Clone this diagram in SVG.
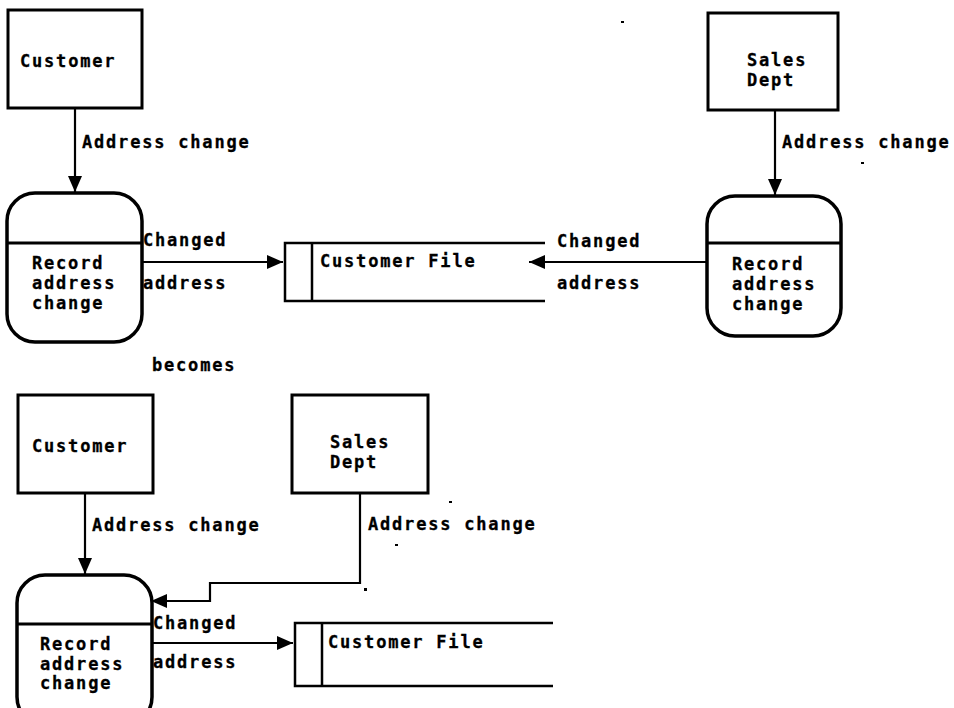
<svg xmlns="http://www.w3.org/2000/svg" width="954" height="708" viewBox="0 0 954 708">
  <style>
    text { font-family: "DejaVu Sans Mono", "Liberation Mono", monospace; font-weight: bold; font-size: 17px; letter-spacing: 1.8px; fill: #000; stroke: #000; stroke-width: 0.3; }
    .box { fill: #fff; stroke: #000; stroke-width: 3; }
    .proc { fill: #fff; stroke: #000; stroke-width: 3.5; }
    .div { stroke: #000; stroke-width: 3; }
    .store { fill: none; stroke: #000; stroke-width: 2.5; }
    .flow { fill: none; stroke: #000; stroke-width: 2.2; }
    .speck { fill: #000; }
  </style>
  <defs>
    <marker id="arrow" markerUnits="userSpaceOnUse" markerWidth="18" markerHeight="14" refX="16" refY="7" orient="auto">
      <path d="M0,0 L16,7 L0,14 Z" fill="#000"/>
    </marker>
  </defs>

  <!-- Before: separate processes -->
  <g id="customer-1">
    <rect class="box" x="8" y="10" width="134" height="98"/>
    <text x="20" y="67">Customer</text>
  </g>
  <g id="record-1">
    <rect class="proc" x="7" y="193" width="135" height="149" rx="28" ry="28"/>
    <line class="div" x1="7" y1="243" x2="142" y2="243"/>
    <text x="32" y="269">Record</text>
    <text x="32" y="289">address</text>
    <text x="32" y="309">change</text>
  </g>
  <g id="file-1">
    <path class="store" d="M545,243 H285 V301 H545 M312,243 V301"/>
    <text x="320" y="267">Customer File</text>
  </g>
  <g id="sales-1">
    <rect class="box" x="708" y="13" width="130" height="97"/>
    <text x="747" y="66">Sales</text>
    <text x="747" y="86">Dept</text>
  </g>
  <g id="record-2">
    <rect class="proc" x="707" y="196" width="134" height="140" rx="28" ry="28"/>
    <line class="div" x1="707" y1="243" x2="841" y2="243"/>
    <text x="732" y="270">Record</text>
    <text x="732" y="290">address</text>
    <text x="732" y="310">change</text>
  </g>

  <text x="152" y="371">becomes</text>

  <!-- After: one shared process -->
  <g id="customer-2">
    <rect class="box" x="18" y="395" width="135" height="98"/>
    <text x="32" y="452">Customer</text>
  </g>
  <g id="sales-2">
    <rect class="box" x="292" y="395" width="136" height="98"/>
    <text x="330" y="448">Sales</text>
    <text x="330" y="468">Dept</text>
  </g>
  <g id="record-3">
    <rect class="proc" x="17" y="575" width="135" height="150" rx="28" ry="28"/>
    <line class="div" x1="17" y1="624" x2="152" y2="624"/>
    <text x="40" y="650">Record</text>
    <text x="40" y="670">address</text>
    <text x="40" y="689">change</text>
  </g>
  <g id="file-2">
    <path class="store" d="M553,623 H295 V686 H553 M322,623 V686"/>
    <text x="328" y="648">Customer File</text>
  </g>

  <g id="connectors">
    <line class="flow" x1="75" y1="108" x2="75" y2="192" marker-end="url(#arrow)"/>
    <line class="flow" x1="142" y1="262" x2="283" y2="262" marker-end="url(#arrow)"/>
    <line class="flow" x1="775" y1="110" x2="775" y2="195" marker-end="url(#arrow)"/>
    <line class="flow" x1="707" y1="262" x2="529" y2="262" marker-end="url(#arrow)"/>
    <line class="flow" x1="85" y1="493" x2="85" y2="574" marker-end="url(#arrow)"/>
    <path class="flow" d="M360,493 V583 H210 V601 H151" marker-end="url(#arrow)"/>
    <line class="flow" x1="152" y1="643" x2="293" y2="643" marker-end="url(#arrow)"/>

    <text x="82" y="148">Address change</text>
    <text x="143" y="246">Changed</text>
    <text x="143" y="289">address</text>
    <text x="782" y="148">Address change</text>
    <text x="557" y="247">Changed</text>
    <text x="557" y="289">address</text>
    <text x="92" y="531">Address change</text>
    <text x="368" y="530">Address change</text>
    <text x="153" y="629">Changed</text>
    <text x="153" y="668">address</text>
  </g>

  <!-- stray marks -->
  <rect class="speck" x="621" y="21" width="3" height="2"/>
  <rect class="speck" x="861" y="162" width="3" height="2"/>
  <rect class="speck" x="449" y="501" width="3" height="2"/>
  <rect class="speck" x="395" y="544" width="3" height="2"/>
  <rect class="speck" x="364" y="588" width="3" height="3"/>
</svg>
